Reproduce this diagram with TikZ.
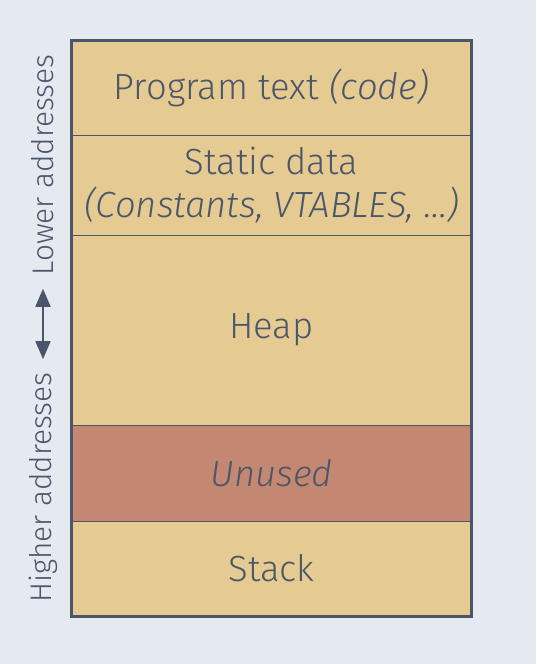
\documentclass[tikz,border=0pt]{standalone}
\usepackage{fontspec}
\setmainfont{Fira Sans}[UprightFont=* Light, ItalicFont=* Light Italic]
\usetikzlibrary{arrows.meta}
\definecolor{bgcol}{HTML}{E5E9F0}
\definecolor{ink}{HTML}{4C566A}
\definecolor{segfill}{HTML}{E5CB91}
\definecolor{freefill}{HTML}{C48872}
\tikzset{segment/.style={draw=ink,fill=segfill,line width=0.5pt,
                         minimum width=199.5pt,inner sep=0pt,text=ink,
                         align=center,font=\fontsize{18.2}{21.5}\selectfont}}
\tikzset{side/.style={rotate=90,inner sep=0pt,text=ink,
                      font=\fontsize{14.9}{18}\selectfont}}

\begin{document}
\begin{tikzpicture}[x=0.5pt,y=-0.5pt]
    \tikzstyle{addrarrow}=[{Triangle[length=9pt,width=7.5pt]}-{Triangle[length=9pt,width=7.5pt]},
                           draw=ink,line width=0.9pt,shorten <=6.5pt,shorten >=6.5pt]
    \useasboundingbox[fill=bgcol] (0,0) rectangle (536,664);

    % Memory segments, lower addresses on top
    \node[segment,minimum height=47pt] (code) at (271.5,88) {Program text \textit{(code)}};
    \node[segment,minimum height=50pt] (static) at (271.5,185)
        {Static data\\\textit{(Constants, VTABLES, \dots)}};
    \node[segment,minimum height=95pt] (heap) at (271.5,330) {Heap};
    \node[segment,minimum height=48pt,fill=freefill] (unused) at (271.5,473) {\textit{Unused}};
    \node[segment,minimum height=47.5pt] (stack) at (271.5,568.5) {Stack};

    % Outer frame
    \draw[ink,line width=1.5pt] (code.north west) rectangle (stack.south east);

    % Address direction
    \node[side] (low) at (43,165) {Lower addresses};
    \node[side] (high) at (43,487.5) {Higher addresses};
    \draw[addrarrow] (low.west) -- (high.east);
\end{tikzpicture}
\end{document}
